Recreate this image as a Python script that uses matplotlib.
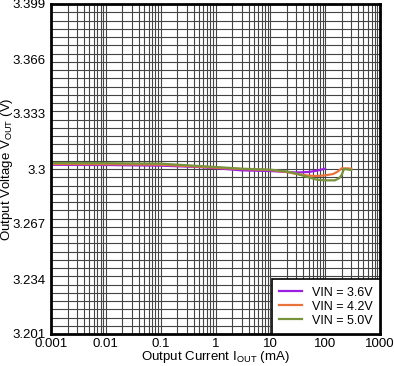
import matplotlib
matplotlib.use("Agg")
import matplotlib.pyplot as plt
import numpy as np

plt.rcParams['font.family'] = ['Liberation Sans', 'DejaVu Sans']
plt.rcParams['mathtext.fontset'] = 'custom'
plt.rcParams['mathtext.rm'] = 'Liberation Sans'

# Data (Output current in mA, output voltage in V)
x_36 = [0.001, 0.01, 0.1, 0.5, 1, 3, 10, 20, 30, 50, 70, 100]
v_36 = [3.3025, 3.3024, 3.3020, 3.3012, 3.3005, 3.2992, 3.2988, 3.2982, 3.2979, 3.2982, 3.2990, 3.3002]

x_42 = [0.001, 0.01, 0.1, 0.5, 1, 3, 10, 20, 30, 50, 70, 100, 140, 170, 200, 250, 300]
v_42 = [3.3030, 3.3029, 3.3026, 3.3014, 3.3008, 3.3000, 3.2994, 3.2982, 3.2970, 3.2960, 3.2958, 3.2962,
        3.2970, 3.2985, 3.3004, 3.3004, 3.3002]

x_50 = [0.001, 0.01, 0.1, 0.5, 1, 3, 10, 20, 30, 50, 70, 100, 150, 180, 200, 220, 250, 300]
v_50 = [3.3036, 3.3035, 3.3032, 3.3018, 3.3012, 3.3002, 3.2996, 3.2985, 3.2972, 3.2950, 3.2936, 3.2932,
        3.2932, 3.2945, 3.2964, 3.3000, 3.2998, 3.2994]

y_ticks = [3.201, 3.234, 3.267, 3.3, 3.333, 3.366, 3.399]
y_tick_labels = ['3.201', '3.234', '3.267', '3.3', '3.333', '3.366', '3.399']
x_ticks = [0.001, 0.01, 0.1, 1, 10, 100, 1000]
x_tick_labels = ['0.001', '0.01', '0.1', '1', '10', '100', '1000']

series = [(x_36, v_36, 'VIN = 3.6V', '#9B1FE0'),
          (x_42, v_42, 'VIN = 4.2V', '#E8743B'),
          (x_50, v_50, 'VIN = 5.0V', '#77933C')]

fig = plt.figure(figsize=(3.94, 3.66), dpi=100)
ax = fig.add_axes([51/394, 1-334/366, 329/394, 330/366])
ax.set_xscale('log')
ax.set_xlim(0.001, 1000)
ax.set_ylim(3.201, 3.399)

grid_color = '#444444'
for d in range(-3, 3):
    for m in range(1, 10):
        xv = m * 10.0 ** d
        if xv > 0.001:
            ax.axvline(xv, color=grid_color, lw=0.8, zorder=1)
for yv in np.linspace(3.201, 3.399, 41)[1:-1]:
    ax.axhline(yv, color=grid_color, lw=0.8, zorder=1)

for xs, vs, lab, c in series:
    ax.plot(xs, vs, color=c, lw=1.6, label=lab, zorder=3)

ax.set_xticks(x_ticks)
ax.set_xticklabels(x_tick_labels)
ax.set_yticks(y_ticks)
ax.set_yticklabels(y_tick_labels)
ax.xaxis.set_minor_locator(matplotlib.ticker.NullLocator())
ax.tick_params(axis='both', length=0, labelsize=9.5, colors='black')
ax.tick_params(axis='x', pad=3)
ax.tick_params(axis='y', pad=4)

for sp in ax.spines.values():
    sp.set_linewidth(2)
    sp.set_color('black')
    sp.set_zorder(5)

ax.set_xlabel(r'Output Current I$_{\mathregular{OUT}}$ (mA)', fontsize=9.5)
ax.set_ylabel(r'Output Voltage V$_{\mathregular{OUT}}$ (V)', fontsize=9.5)
ax.xaxis.set_label_coords(0.5, -(349-334)/330)
ax.yaxis.set_label_coords(-(51-15)/329, 0.5)

leg = ax.legend(loc='lower right', fontsize=9, frameon=True, fancybox=False,
                edgecolor='black', borderaxespad=0, handlelength=1.8,
                labelspacing=0.15, borderpad=0.6, handletextpad=0.8)
leg.get_frame().set_linewidth(1.2)
leg.get_frame().set_alpha(1)
leg.set_zorder(6)

fig.savefig('out.png', dpi=100)
